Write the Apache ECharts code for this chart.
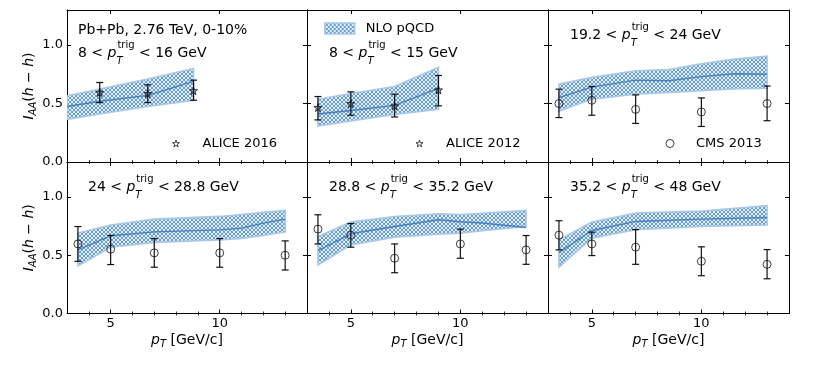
<!DOCTYPE html>
<html>
<head>
<meta charset="utf-8">
<script src="https://cdn.jsdelivr.net/npm/echarts@6/dist/echarts.min.js"></script>
<style>
  html, body { margin: 0; padding: 0; background: #fff; }
  #main { width: 830px; height: 369px; }
</style>
</head>
<body>
<div id="main"></div>
<script>
// tick labels
const xTickLabels = [5, 10];
const xMinorTicks = [4, 6, 7, 8, 9, 11, 12, 13];
const yTickLabels = [0, 0.5, 1.0];

// panel 1 : ALICE 2016, 8 < pT trig < 16
const band1X = [3, 4.5, 6.7, 8.8];
const band1Lo = [0.365, 0.41, 0.475, 0.528];
const band1Hi = [0.566, 0.625, 0.71, 0.80];
const band1Mid = [0.475, 0.52, 0.57, 0.69];
const pts1X = [4.5, 6.7, 8.8];
const pts1Y = [0.595, 0.586, 0.61];
const pts1Lo = [0.508, 0.508, 0.528];
const pts1Hi = [0.68, 0.66, 0.70];

// panel 2 : ALICE 2012, 8 < pT trig < 15
const band2X = [3.5, 5, 7, 9];
const band2Lo = [0.307, 0.35, 0.407, 0.45];
const band2Hi = [0.537, 0.586, 0.646, 0.81];
const band2Mid = [0.41, 0.44, 0.484, 0.63];
const pts2X = [3.5, 5, 7, 9];
const pts2Y = [0.466, 0.50, 0.48, 0.617];
const pts2Lo = [0.36, 0.40, 0.385, 0.48];
const pts2Hi = [0.56, 0.60, 0.58, 0.74];

// panel 3 : CMS 2013, 19.2 < pT trig < 24
const band3X = [3.5, 5, 7, 8.5, 10, 11.5, 13];
const band3Lo = [0.436, 0.537, 0.58, 0.595, 0.61, 0.625, 0.63];
const band3Hi = [0.666, 0.724, 0.78, 0.79, 0.84, 0.88, 0.905];
const band3Mid = [0.55, 0.64, 0.70, 0.695, 0.73, 0.755, 0.75];
const pts3X = [3.5, 5, 7, 10, 13];
const pts3Y = [0.50, 0.528, 0.45, 0.428, 0.50];
const pts3Lo = [0.38, 0.40, 0.33, 0.304, 0.353];
const pts3Hi = [0.623, 0.646, 0.574, 0.548, 0.65];

// panel 4 : CMS 2013, 24 < pT trig < 28.8
const band4X = [3.5, 5, 7, 10, 11, 12, 13];
const band4Lo = [0.408, 0.569, 0.61, 0.632, 0.645, 0.67, 0.70];
const band4Hi = [0.69, 0.76, 0.81, 0.833, 0.85, 0.868, 0.885];
const band4Mid = [0.546, 0.667, 0.70, 0.718, 0.733, 0.775, 0.81];
const pts4X = [3.5, 5, 7, 10, 13];
const pts4Y = [0.597, 0.552, 0.52, 0.52, 0.50];
const pts4Lo = [0.448, 0.42, 0.397, 0.397, 0.373];
const pts4Hi = [0.746, 0.67, 0.643, 0.643, 0.623];

// panel 5 : CMS 2013, 28.8 < pT trig < 35.2
const band5X = [3.5, 5, 7, 9, 10, 11, 13];
const band5Lo = [0.416, 0.589, 0.655, 0.68, 0.69, 0.71, 0.747];
const band5Hi = [0.66, 0.784, 0.833, 0.856, 0.85, 0.86, 0.885];
const band5Mid = [0.54, 0.684, 0.747, 0.804, 0.787, 0.776, 0.738];
const pts5X = [3.5, 5, 7, 10, 13];
const pts5Y = [0.724, 0.672, 0.474, 0.597, 0.546];
const pts5Lo = [0.597, 0.569, 0.35, 0.474, 0.422];
const pts5Hi = [0.847, 0.772, 0.597, 0.724, 0.669];

// panel 6 : CMS 2013, 35.2 < pT trig < 48
const band6X = [3.5, 5, 7, 10, 13];
const band6Lo = [0.397, 0.647, 0.718, 0.747, 0.759];
const band6Hi = [0.632, 0.784, 0.862, 0.88, 0.925];
const band6Mid = [0.522, 0.712, 0.79, 0.81, 0.824];
const pts6X = [3.5, 5, 7, 10, 13];
const pts6Y = [0.672, 0.597, 0.569, 0.448, 0.422];
const pts6Lo = [0.546, 0.497, 0.422, 0.324, 0.298];
const pts6Hi = [0.796, 0.698, 0.72, 0.572, 0.548];

const expNames = ['ALICE 2016', 'ALICE 2012', 'CMS 2013', 'CMS 2013', 'CMS 2013', 'CMS 2013'];
const trigLabels = [
  '8 < {p|p}{sub|T}{sup|trig} < 16 GeV',
  '8 < {p|p}{sub|T}{sup|trig} < 15 GeV',
  '19.2 < {p|p}{sub|T}{sup|trig} < 24 GeV',
  '24 < {p|p}{sub|T}{sup|trig} < 28.8 GeV',
  '28.8 < {p|p}{sub|T}{sup|trig} < 35.2 GeV',
  '35.2 < {p|p}{sub|T}{sup|trig} < 48 GeV'
];

const bands = [
  [band1X, band1Lo, band1Hi, band1Mid], [band2X, band2Lo, band2Hi, band2Mid],
  [band3X, band3Lo, band3Hi, band3Mid], [band4X, band4Lo, band4Hi, band4Mid],
  [band5X, band5Lo, band5Hi, band5Mid], [band6X, band6Lo, band6Hi, band6Mid]
];
const points = [
  [pts1X, pts1Y, pts1Lo, pts1Hi], [pts2X, pts2Y, pts2Lo, pts2Hi],
  [pts3X, pts3Y, pts3Lo, pts3Hi], [pts4X, pts4Y, pts4Lo, pts4Hi],
  [pts5X, pts5Y, pts5Lo, pts5Hi], [pts6X, pts6Y, pts6Lo, pts6Hi]
];

const FONT = 'DejaVu Sans';
const STAR = 'path://M0,-10 L2.35,-3.24 L9.51,-3.09 L3.8,1.24 L5.88,8.09 L0,4 L-5.88,8.09 L-3.8,1.24 L-9.51,-3.09 L-2.35,-3.24 Z';

// cross hatch tile for the theory band
function makeHatch() {
  const c = document.createElement('canvas');
  c.width = 4; c.height = 4;
  const ctx = c.getContext('2d');
  const img = ctx.createImageData(4, 4);
  for (let y = 0; y < 4; y++) {
    for (let x = 0; x < 4; x++) {
      const on = ((x - y + 8) % 4 === 0) || ((x + y) % 4 === 3);
      const k = (y * 4 + x) * 4;
      const col = on ? [104, 157, 210] : [228, 238, 248];
      img.data[k] = col[0]; img.data[k + 1] = col[1]; img.data[k + 2] = col[2]; img.data[k + 3] = 255;
    }
  }
  ctx.putImageData(img, 0, 0);
  return c;
}
const hatch = { image: makeHatch(), repeat: 'repeat' };

const chart = echarts.init(document.getElementById('main'));

const lefts = [67, 307, 548];
const tops = [10, 162];
const grid = [], xAxis = [], yAxis = [], series = [], title = [];

const richSub = {
  p: { fontStyle: 'italic', fontSize: 14, fontFamily: FONT, lineHeight: 26 },
  sub: { fontStyle: 'italic', fontSize: 10, fontFamily: FONT, lineHeight: 10, verticalAlign: 'bottom', width: 1 },
  sup: { fontSize: 10, fontFamily: FONT, lineHeight: 10, verticalAlign: 'top' }
};
const nameRich = {
  i: { fontStyle: 'italic', fontSize: 14, fontFamily: FONT, lineHeight: 18 },
  s: { fontStyle: 'italic', fontSize: 10, fontFamily: FONT, lineHeight: 10, verticalAlign: 'bottom' },
  n: { fontSize: 14, fontFamily: FONT, lineHeight: 18 }
};

for (let g = 0; g < 6; g++) {
  const row = Math.floor(g / 3), col = g % 3;
  grid.push({ left: lefts[col], top: tops[row], width: col === 0 ? 240 : 241, height: row === 0 ? 152 : 151.5 });

  const xBase = {
    gridIndex: g, type: 'value', min: 3, max: 14,
    axisLine: { onZero: false, lineStyle: { color: '#000', width: 1 } },
    axisTick: { inside: true, length: 4, customValues: xTickLabels, lineStyle: { color: '#000', width: 1 } },
    axisLabel: { show: false },
    splitLine: { show: false }
  };
  const xMinor = Object.assign({}, xBase, {
    axisLine: { show: false },
    axisTick: { inside: true, length: 2, customValues: xMinorTicks, lineStyle: { color: '#000', width: 0.8 } }
  });
  // bottom: major ticks + labels, then minor ticks
  xAxis.push(Object.assign({}, xBase, {
    position: 'bottom',
    axisLabel: { show: row === 1, customValues: xTickLabels, color: '#000', fontSize: 13, fontFamily: FONT, margin: 4 },
    name: row === 1 ? '{i|p}{s|T}{n| [GeV/c]}' : '',
    nameLocation: 'middle', nameGap: 18,
    nameTextStyle: { color: '#000', rich: nameRich }
  }));
  xAxis.push(Object.assign({}, xMinor, { position: 'bottom' }));
  // top: mirrored ticks
  xAxis.push(Object.assign({}, xBase, { position: 'top' }));
  xAxis.push(Object.assign({}, xMinor, { position: 'top' }));

  const yBase = {
    gridIndex: g, type: 'value', min: 0, max: 1.3, interval: 0.5,
    axisLine: { onZero: false, lineStyle: { color: '#000', width: 1 } },
    axisTick: { inside: true, length: 4, customValues: yTickLabels, lineStyle: { color: '#000', width: 1 } },
    splitLine: { show: false }
  };
  yAxis.push(Object.assign({}, yBase, {
    position: 'left',
    axisLabel: { show: col === 0, customValues: yTickLabels, formatter: v => v.toFixed(1), color: '#000', fontSize: 13, fontFamily: FONT, margin: 4 },
    name: col === 0 ? '{i|I}{s|AA}{n|(}{i|h}{n| − }{i|h}{n|)}' : '',
    nameLocation: 'middle', nameGap: 28, nameRotate: 90,
    nameTextStyle: { color: '#000', rich: nameRich }
  }));
  yAxis.push(Object.assign({}, yBase, { position: 'right', axisLabel: { show: false } }));

  const xi = 4 * g, yi = 2 * g;
  const b = bands[g], p = points[g];

  // theory band
  const bandData = b[0].map((x, k) => [x, b[1][k], b[2][k]]);
  series.push({
    type: 'custom', name: 'NLO pQCD', xAxisIndex: xi, yAxisIndex: yi, z: 1,
    clip: true,
    encode: { x: 0, y: [1, 2] },
    data: bandData,
    renderItem: (params, api) => {
      if (params.dataIndex !== 0) return null;
      const up = [], dn = [];
      for (let k = 0; k < bandData.length; k++) {
        up.push(api.coord([api.value(0, k), api.value(2, k)]));
        dn.push(api.coord([api.value(0, k), api.value(1, k)]));
      }
      return {
        type: 'polygon',
        shape: { points: up.concat(dn.reverse()) },
        style: { fill: hatch, stroke: '#a9c8e6', lineWidth: 1.6 }
      };
    }
  });
  // central curve
  series.push({
    type: 'line', name: 'NLO central', xAxisIndex: xi, yAxisIndex: yi, z: 2,
    showSymbol: false, symbol: 'none',
    lineStyle: { color: '#4581c0', width: 1.4 },
    data: b[0].map((x, k) => [x, b[3][k]])
  });
  // error bars
  series.push({
    type: 'custom', name: expNames[g] + ' err', xAxisIndex: xi, yAxisIndex: yi, z: 3,
    encode: { x: 0, y: [1, 2, 3] },
    data: p[0].map((x, k) => [x, p[1][k], p[2][k], p[3][k]]),
    renderItem: (params, api) => {
      const x = api.value(0);
      const a = api.coord([x, api.value(2)]);
      const c = api.coord([x, api.value(3)]);
      const w = 3.5, st = { stroke: '#111', lineWidth: 1.2 };
      return {
        type: 'group', children: [
          { type: 'line', shape: { x1: a[0], y1: a[1], x2: c[0], y2: c[1] }, style: st },
          { type: 'line', shape: { x1: a[0] - w, y1: a[1], x2: a[0] + w, y2: a[1] }, style: st },
          { type: 'line', shape: { x1: c[0] - w, y1: c[1], x2: c[0] + w, y2: c[1] }, style: st }
        ]
      };
    }
  });
  // data points
  series.push({
    type: 'scatter', name: expNames[g], xAxisIndex: xi, yAxisIndex: yi, z: 4,
    symbol: g < 2 ? STAR : 'circle', symbolSize: 8,
    itemStyle: g < 2
      ? { color: 'rgba(30,30,30,0.4)', borderColor: '#111', borderWidth: 1 }
      : { color: 'rgba(0,0,0,0)', borderColor: '#111', borderWidth: 1 },
    data: p[0].map((x, k) => [x, p[1][k]])
  });
}

const titlePos = [[78, 40], [329, 40], [570, 22], [88, 174], [329, 174], [570, 174]];
const textBase = { color: '#000', fontSize: 14, fontWeight: 'normal', fontFamily: FONT, lineHeight: 26 };
title.push({ text: 'Pb+Pb, 2.76 TeV, 0-10%', left: 78, top: 22, padding: 0,
  textStyle: { color: '#000', fontSize: 14, fontWeight: 'normal', fontFamily: FONT, lineHeight: 16 } });
for (let g = 0; g < 6; g++) {
  title.push({ text: trigLabels[g], left: titlePos[g][0], top: titlePos[g][1], padding: 0,
    textStyle: Object.assign({}, textBase, { rich: richSub }) });
}

const legendText = { color: '#000', fontSize: 13, fontFamily: FONT };
const legend = [
  { left: 324, top: 22, padding: 0, selectedMode: false, itemWidth: 30, itemHeight: 11,
    textStyle: Object.assign({ padding: [0, 0, 0, 6] }, legendText),
    data: [{ name: 'NLO pQCD', icon: 'rect', itemStyle: { color: hatch, borderColor: '#a9c8e6', borderWidth: 1.5 } }] },
  { left: 172, top: 137, padding: 0, selectedMode: false, itemWidth: 7, itemHeight: 7,
    textStyle: Object.assign({ padding: [0, 0, 0, 18] }, legendText),
    data: [{ name: 'ALICE 2016', icon: STAR, itemStyle: { color: 'rgba(0,0,0,0)', borderColor: '#111', borderWidth: 1 } }] },
  { left: 415.5, top: 137, padding: 0, selectedMode: false, itemWidth: 7, itemHeight: 7,
    textStyle: Object.assign({ padding: [0, 0, 0, 18] }, legendText),
    data: [{ name: 'ALICE 2012', icon: STAR, itemStyle: { color: 'rgba(0,0,0,0)', borderColor: '#111', borderWidth: 1 } }] },
  { left: 665.5, top: 137, padding: 0, selectedMode: false, itemWidth: 8, itemHeight: 8,
    textStyle: Object.assign({ padding: [0, 0, 0, 17] }, legendText),
    data: [{ name: 'CMS 2013', icon: 'circle', itemStyle: { color: 'rgba(0,0,0,0)', borderColor: '#111', borderWidth: 1 } }] }
];

chart.setOption({
  animation: false,
  backgroundColor: '#fff',
  textStyle: { fontFamily: FONT },
  title: title,
  legend: legend,
  grid: grid,
  xAxis: xAxis,
  yAxis: yAxis,
  series: series
});
</script>
</body>
</html>
